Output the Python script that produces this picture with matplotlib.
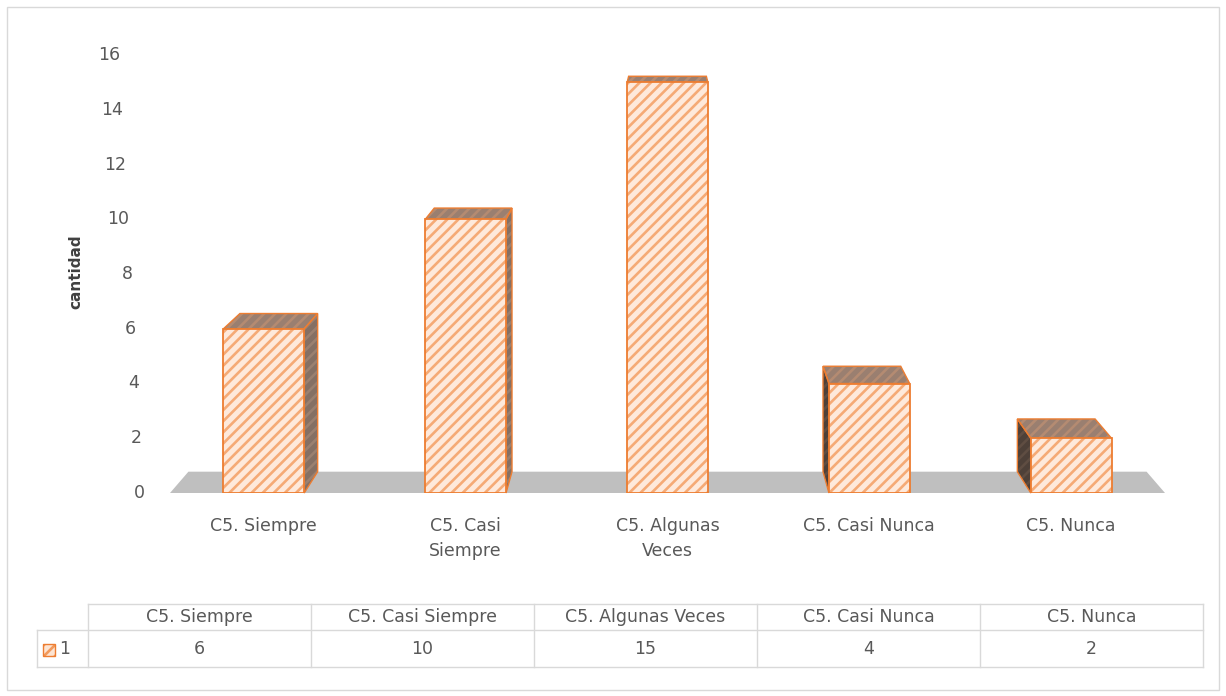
import matplotlib.pyplot as plt
from matplotlib.patches import Polygon, Rectangle
from matplotlib.lines import Line2D

# chart data
categories = ["C5. Siempre", "C5. Casi Siempre", "C5. Algunas Veces", "C5. Casi Nunca", "C5. Nunca"]
axis_labels = ["C5. Siempre", "C5. Casi\nSiempre", "C5. Algunas\nVeces", "C5. Casi Nunca", "C5. Nunca"]
values = [6, 10, 15, 4, 2]
series_name = "1"
yticks = [0, 2, 4, 6, 8, 10, 12, 14, 16]

W, H = 1226, 696
TXT = "#595959"
GRID = "#d9d9d9"
ORANGE = "#ed7d31"
plt.rcParams["hatch.linewidth"] = 1.9
plt.rcParams["font.family"] = "DejaVu Sans"


def fx(px):
    return px / W


def fy(py):
    return 1 - py / H


fig = plt.figure(figsize=(W / 100, H / 100), dpi=100)
ax = fig.add_axes([fx(170), fy(493), fx(1165) - fx(170), fy(55) - fy(493)])
xl, xr = -0.465, len(values) - 1 + 0.465
ax.set_xlim(xl, xr)
ax.set_ylim(0, 16)
for s in ax.spines.values():
    s.set_visible(False)
ax.set_yticks([])

# simple one point perspective for the 3d look
vx, vy, depth = (len(values) - 1) / 2, 21.04, 0.037


def back(x, y):
    return (x + (vx - x) * depth, y + (vy - y) * depth)


def face(pts, fill, stripes, z):
    # hatch colour follows edgecolor, so draw fill+hatch then the orange outline
    ax.add_patch(Polygon(pts, closed=True, facecolor=fill, edgecolor=stripes, lw=0,
                         hatch="///", zorder=z, clip_on=False))
    ax.add_patch(Polygon(pts, closed=True, fill=False, edgecolor=ORANGE, lw=1.0,
                         zorder=z + 0.1, clip_on=False))


# floor
floor = [(xl, 0), (xr, 0), back(xr, 0), back(xl, 0)]
ax.add_patch(Polygon(floor, closed=True, facecolor="#bfbfbf", edgecolor="none", zorder=1, clip_on=False))

bw = 0.40
for i, v in enumerate(values):
    x0, x1 = i - bw / 2, i + bw / 2
    if x1 < vx - 0.01:
        face([(x1, 0), (x1, v), back(x1, v), back(x1, 0)], "#857064", "#9a8070", 2)
    elif x0 > vx + 0.01:
        face([(x0, 0), (x0, v), back(x0, v), back(x0, 0)], "#4e4038", "#5f4d42", 2)
    face([(x0, v), (x1, v), back(x1, v), back(x0, v)], "#9a7f70", "#b48b72", 2)

# front faces
ax.bar(range(len(values)), values, width=bw, facecolor="#fee9db", edgecolor="#f5aa76",
       linewidth=0, hatch="///", zorder=3)
ax.bar(range(len(values)), values, width=bw, fill=False, edgecolor=ORANGE,
       linewidth=1.3, zorder=3.1)

# category labels
ax.set_xticks(range(len(values)))
ax.set_xticklabels(axis_labels, fontsize=12.5, color=TXT, linespacing=1.5)
ax.tick_params(axis="x", length=0, pad=17)

# y tick labels (slightly slanted like the 3d wall)
for t in yticks:
    xpx = 145 - 25 * t / 16
    ax.text((xpx - 170) / (1165 - 170), t, str(t), transform=ax.get_yaxis_transform(),
            ha="right", va="center", fontsize=12.5, color=TXT)

fig.text(fx(76), fy(272), "cantidad", rotation=90, ha="center", va="center",
         fontsize=11, fontweight="bold", color="#404040")

# data table
col_left, col_w = 88, 223
row_top, row_mid, row_bot = 604, 630, 667
n = len(categories)
right = col_left + n * col_w


def hline(y, x0, x1):
    fig.add_artist(Line2D([fx(x0), fx(x1)], [fy(y), fy(y)], color=GRID, lw=1))


def vline(x, y0, y1):
    fig.add_artist(Line2D([fx(x), fx(x)], [fy(y0), fy(y1)], color=GRID, lw=1))


hline(row_top, col_left, right)
hline(row_mid, 37, right)
hline(row_bot, 37, right)
vline(37, row_mid, row_bot)
for k in range(n + 1):
    vline(col_left + k * col_w, row_top, row_bot)

for k, (c, v) in enumerate(zip(categories, values)):
    cx = col_left + (k + 0.5) * col_w
    fig.text(fx(cx), fy((row_top + row_mid) / 2), c, ha="center", va="center", fontsize=12.5, color=TXT)
    fig.text(fx(cx), fy((row_mid + row_bot) / 2), str(v), ha="center", va="center", fontsize=12.5, color=TXT)

# legend key in table
fig.add_artist(Rectangle((fx(43), fy(656)), fx(12), 12 / H, facecolor="#fde4d2", edgecolor="#f29a5c",
                         lw=0, hatch="///", transform=fig.transFigure))
fig.add_artist(Rectangle((fx(43), fy(656)), fx(12), 12 / H, fill=False, edgecolor=ORANGE,
                         lw=1, transform=fig.transFigure))
fig.text(fx(59), fy(649), series_name, ha="left", va="center", fontsize=12.5, color=TXT)

# chart border
fig.add_artist(Rectangle((fx(7), fy(690)), fx(1219) - fx(7), (690 - 7) / H, fill=False,
                         edgecolor=GRID, lw=1, transform=fig.transFigure))

fig.savefig("out.png", dpi=100)
